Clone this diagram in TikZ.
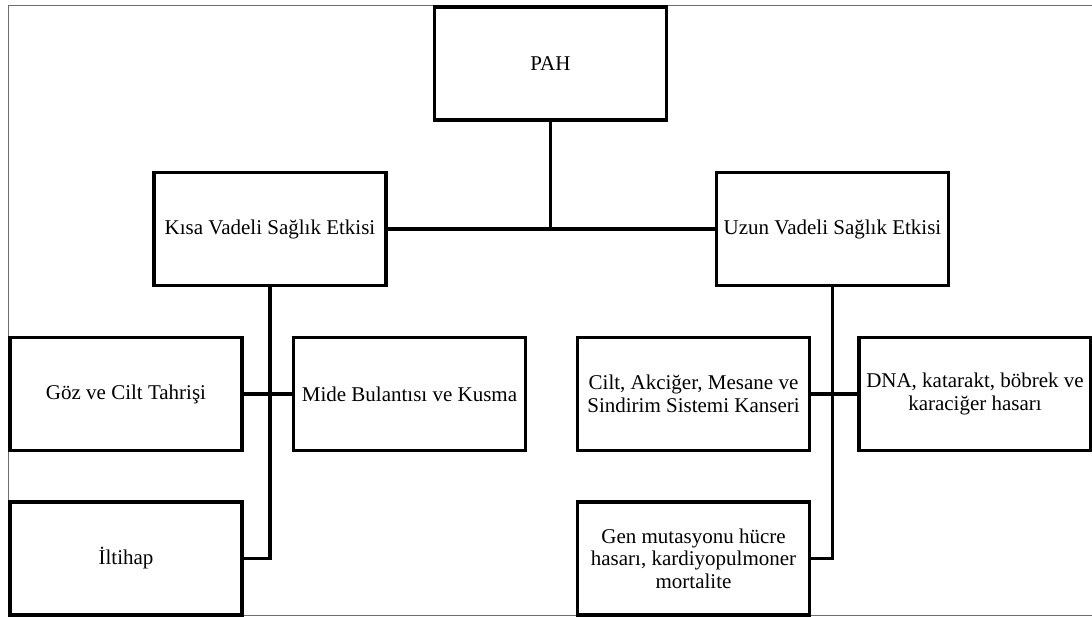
\documentclass[tikz,border=0pt]{standalone}
\usepackage{fontspec}
\setmainfont{Liberation Serif}
\usetikzlibrary{positioning, calc}
\definecolor{frameGray}{RGB}{110,110,110}

\begin{document}
\begin{tikzpicture}[
  x=1pt, y=-1pt,
  box/.style={rectangle, draw=black, fill=white, line width=3.4pt,
    minimum width=232pt, minimum height=113pt, align=center,
    inner sep=1pt, font=\fontsize{21}{22.5}\selectfont},
  link/.style={line width=3.4pt, draw=black},
]
\useasboundingbox (0,0) rectangle (1092,617);

%% ── Outer frame ──────────────────────────────────────────────────────────────
\draw[frameGray, line width=1pt] (8,6) rectangle (1110,615);

%% ── Root ─────────────────────────────────────────────────────────────────────
\node[box] (PAH) at (550.5, 63.5) {PAH};

%% ── Two effect groups ────────────────────────────────────────────────────────
\node[box] (KISA) at (270, 229) {Kısa Vadeli Sağlık Etkisi};
\node[box] (UZUN) at (832.5, 229) {Uzun Vadeli Sağlık Etkisi};

\coordinate (J) at (PAH.south |- KISA.east);
\draw[link] (PAH.south) -- (J);
\draw[link] (KISA.east) -- (UZUN.west);

%% ── Short-term effects ───────────────────────────────────────────────────────
\node[box] (GOZ)  at (126, 394)   {Göz ve Cilt Tahrişi};
\node[box] (MIDE) at (409.5, 394) {Mide Bulantısı ve Kusma};
\node[box] (ILTI) at (126, 558.5) {İltihap};

\draw[link] (KISA.south) |- (ILTI.east);
\draw[link] (GOZ.east) -- (MIDE.west);

%% ── Long-term effects ────────────────────────────────────────────────────────
\node[box] (CILT) at (693.5, 394)
  {Cilt, Akciğer, Mesane ve\\Sindirim Sistemi Kanseri};
\node[box] (DNA)  at (975, 394)
  {DNA, katarakt, böbrek ve\\karaciğer hasarı};
\node[box] (GEN)  at (693.5, 558.5)
  {Gen mutasyonu hücre\\hasarı, kardiyopulmoner\\mortalite};

\draw[link] (UZUN.south) |- (GEN.east);
\draw[link] (CILT.east) -- (DNA.west);

\end{tikzpicture}
\end{document}
